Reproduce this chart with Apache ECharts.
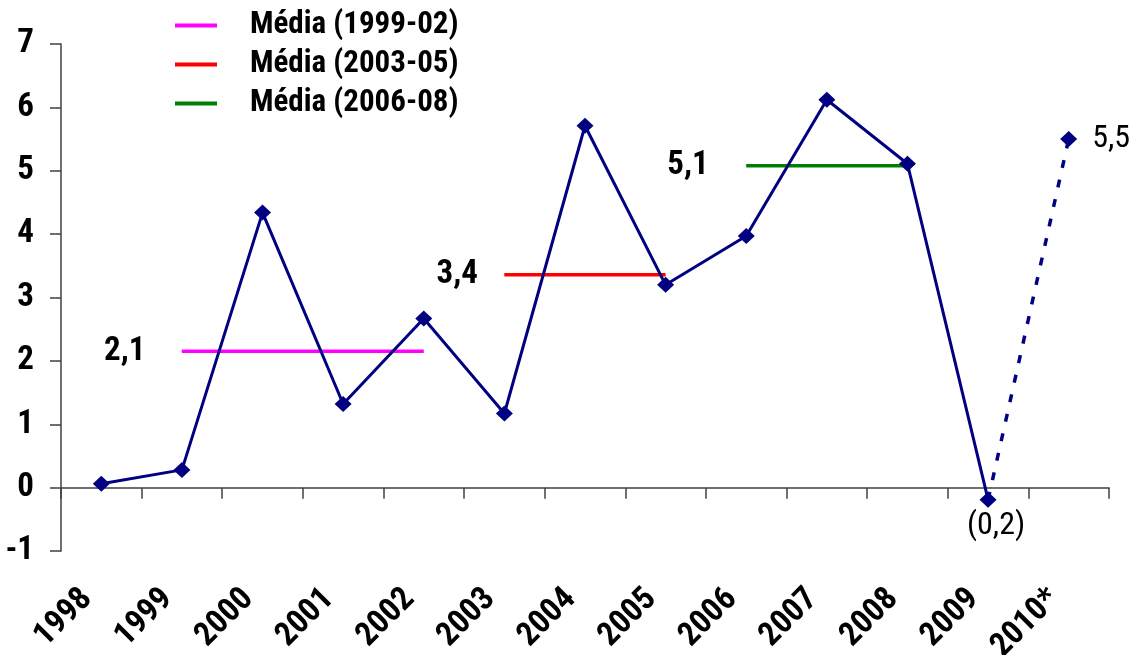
<!DOCTYPE html>
<html>
<head>
<meta charset="utf-8">
<script src="https://cdn.jsdelivr.net/npm/echarts@6/dist/echarts.min.js"></script>
<style>
html,body{margin:0;padding:0;background:#fff;}
#c{width:1137px;height:655px;}
</style>
</head>
<body>
<div id="c"></div>
<script>
const categories = ['1998','1999','2000','2001','2002','2003','2004','2005','2006','2007','2008','2009','2010*'];
const growth = [0.06, 0.28, 4.34, 1.32, 2.67, 1.17, 5.71, 3.20, 3.97, 6.12, 5.11, -0.19, 5.50];
const avgNames = ['Média (1999-02)', 'Média (2003-05)', 'Média (2006-08)'];
const avgValues = [2.15, 3.36, 5.08];
const avgStart = ['1999', '2003', '2006'];
const avgEnd = ['2002', '2005', '2008'];
const avgLabels = ['2,1', '3,4', '5,1'];
const lastLabel = '5,5';
const dipLabel = '(0,2)';
const yTicks = [-1, 0, 1, 2, 3, 4, 5, 6, 7];

const FONT = "'Roboto Condensed', 'DejaVu Sans Condensed', sans-serif";
const NAVY = '#000080';
const avgColors = ['#ff00ff', '#ff0000', '#008000'];
const avgLabelGap = [36, 26, 37];

const avgSeries = avgNames.map((name, k) => {
  const s = categories.indexOf(avgStart[k]);
  const e = categories.indexOf(avgEnd[k]);
  const data = categories.map((c, i) => {
    if (i < s || i > e) return null;
    if (i === s) return {
      value: avgValues[k], symbol: 'circle', symbolSize: 1,
      label: {show: true, position: 'left', distance: avgLabelGap[k], formatter: avgLabels[k]}
    };
    return avgValues[k];
  });
  return {
    name, type: 'line', data, symbol: 'none', showSymbol: true, z: 2,
    lineStyle: {color: avgColors[k], width: 3.5}, itemStyle: {color: avgColors[k]},
    label: {fontFamily: FONT, fontSize: 33, fontWeight: 'bold', color: '#000'},
    emphasis: {disabled: true}
  };
});

const lastIdx = categories.length - 1;
const solidData = growth.map((v, i) => {
  if (i === lastIdx) return null;
  if (i === lastIdx - 1) return {value: v, label: {show: true, position: 'bottom', distance: 2, offset: [8, 0], formatter: dipLabel}};
  return v;
});
const dashData = growth.map((v, i) => {
  if (i === lastIdx - 1) return {value: v, symbol: 'none'};
  if (i === lastIdx) return {value: v, label: {show: true, position: 'right', distance: 15, formatter: lastLabel}};
  return null;
});

const chart = echarts.init(document.getElementById('c'), null, {renderer: 'canvas'});
chart.setOption({
  animation: false,
  backgroundColor: '#fff',
  grid: {left: 61, right: 28, top: 44, bottom: 104, containLabel: false, outerBoundsMode: 'none'},
  legend: {
    data: avgNames.map(n => ({name: n, icon: 'rect'})),
    orient: 'vertical', left: 170, top: 5, itemGap: 8,
    itemWidth: 42, itemHeight: 4,
    textStyle: {fontFamily: FONT, fontSize: 31, fontWeight: 'bold', color: '#000', padding: [0, 0, 0, 28]},
    selectedMode: false
  },
  xAxis: {
    type: 'category', data: categories, boundaryGap: true,
    axisLine: {onZero: true, lineStyle: {color: '#404040', width: 1.5}},
    axisTick: {show: true, length: 11, interval: 0, alignWithLabel: false, lineStyle: {color: '#404040', width: 1.5}},
    axisLabel: {interval: 0, rotate: 45, margin: 29, padding: [0, 20, 0, 0], fontFamily: FONT, fontSize: 33, fontWeight: 'bold', color: '#000'},
    splitLine: {show: false}
  },
  yAxis: {
    type: 'value', min: yTicks[0], max: yTicks[yTicks.length - 1], interval: 1,
    axisLine: {show: true, lineStyle: {color: '#404040', width: 1.5}},
    axisTick: {show: true, length: 11, lineStyle: {color: '#404040', width: 1.5}},
    axisLabel: {margin: 27, fontFamily: FONT, fontSize: 33, fontWeight: 'bold', color: '#000'},
    splitLine: {show: false}
  },
  series: [
    ...avgSeries,
    {
      name: 'growth', type: 'line', data: solidData, z: 5,
      symbol: 'diamond', symbolSize: [17, 16], showAllSymbol: true,
      lineStyle: {color: NAVY, width: 3}, itemStyle: {color: NAVY},
      label: {fontFamily: FONT, fontSize: 32, color: '#000'},
      emphasis: {disabled: true}
    },
    {
      name: 'proj', type: 'line', data: dashData, z: 5, connectNulls: false,
      symbol: 'diamond', symbolSize: [17, 16],
      lineStyle: {color: NAVY, width: 3.5, type: [8, 12]}, itemStyle: {color: NAVY},
      label: {fontFamily: FONT, fontSize: 32, color: '#000'},
      emphasis: {disabled: true}
    }
  ]
});
</script>
</body>
</html>
